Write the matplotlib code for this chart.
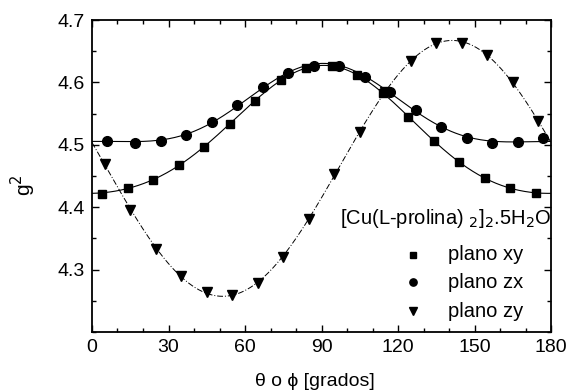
import numpy as np
import matplotlib
matplotlib.use("Agg")
import matplotlib.pyplot as plt
from matplotlib.ticker import MultipleLocator

plt.rcParams['font.family'] = ['Liberation Sans', 'DejaVu Sans']

# plano xy (cuadrados)
ang_xy = [4, 14, 24, 34, 44, 54, 64, 74, 84, 94, 104, 114, 124, 134, 144, 154, 164, 174]
g2_xy = [4.421, 4.431, 4.444, 4.468, 4.497, 4.533, 4.570, 4.604, 4.623, 4.627,
         4.612, 4.583, 4.545, 4.506, 4.473, 4.447, 4.431, 4.423]

# plano zx (circulos)
ang_zx = [6, 17, 27, 37, 47, 57, 67, 77, 87, 97, 107, 117, 127, 137, 147, 157, 167, 177]
g2_zx = [4.506, 4.503, 4.506, 4.516, 4.536, 4.564, 4.593, 4.615, 4.627, 4.627,
         4.609, 4.585, 4.556, 4.528, 4.511, 4.503, 4.504, 4.511]

# plano zy (triangulos)
ang_zy = [5, 15, 25, 35, 45, 55, 65, 75, 85, 95, 105, 115, 125, 135, 145, 155, 165, 175]
g2_zy = [4.469, 4.396, 4.333, 4.290, 4.264, 4.259, 4.279, 4.320, 4.381, 4.453,
         4.521, 4.585, 4.634, 4.663, 4.663, 4.644, 4.601, 4.538]

series = [
    ('plano xy', ang_xy, g2_xy, 's', 6),
    ('plano zx', ang_zx, g2_zx, 'o', 7),
    ('plano zy', ang_zy, g2_zy, 'v', 7.5),
]


def base(a, n):
    cols = [np.ones_like(a)]
    for k in range(1, n + 1):
        cols += [np.cos(2 * k * a), np.sin(2 * k * a)]
    return np.column_stack(cols)


def ajuste(ang, g2, th, n):
    # serie de Fourier en 2*theta ajustada por minimos cuadrados
    coef, *_ = np.linalg.lstsq(base(np.radians(ang), n), np.asarray(g2), rcond=None)
    return base(np.radians(th), n) @ coef


th = np.linspace(0, 180, 400)

fig = plt.figure(figsize=(5.7, 3.91), dpi=100)
ax = fig.add_axes([0.1614, 0.151, 0.8053, 0.7978])

ax.plot(th, ajuste(ang_xy, g2_xy, th, 2), color='black', lw=0.8)
ax.plot(th, ajuste(ang_zx, g2_zx, th, 2), color='black', lw=0.8)
ax.plot(th, ajuste(ang_zy, g2_zy, th, 2), color='black', lw=0.7, ls=(0, (6, 2, 1, 2)))

for lab, a, g, m, ms in series:
    ax.plot(a, g, m, color='black', ms=ms, label=lab)

ax.set_xlim(0, 180)
ax.set_ylim(4.2, 4.7)
ax.xaxis.set_major_locator(MultipleLocator(30))
ax.xaxis.set_minor_locator(MultipleLocator(10))
ax.set_yticks([4.3, 4.4, 4.5, 4.6, 4.7])
ax.yaxis.set_minor_locator(MultipleLocator(0.05))
ax.tick_params(which='both', direction='in', top=True, right=True, labelsize=14, width=1)
ax.tick_params(which='major', length=5, pad=5)
ax.tick_params(which='minor', length=3)
for s in ax.spines.values():
    s.set_linewidth(1.3)

ax.set_xlabel('θ o ϕ [grados]', fontsize=14)
ax.xaxis.set_label_coords(0.486, -0.132)
ax.set_ylabel('g$^2$', fontsize=15)
ax.yaxis.set_label_coords(-0.118, 0.47)

# leyenda
ax.text(0.54, 0.365, '[Cu(L-prolina) $_2$]$_2$.5H$_2$O', transform=ax.transAxes,
        fontsize=14.5, va='center', ha='left', clip_on=False)
filas = [0.247, 0.160, 0.067]
for (lab, a, g, m, ms), yy in zip(series, filas):
    ax.plot([0.699], [yy], m, color='black', ms=ms * 0.75, transform=ax.transAxes,
            clip_on=False)
    ax.text(0.776, yy, lab, transform=ax.transAxes, fontsize=14.5, va='center', ha='left')

fig.savefig('out.png', dpi=100)
